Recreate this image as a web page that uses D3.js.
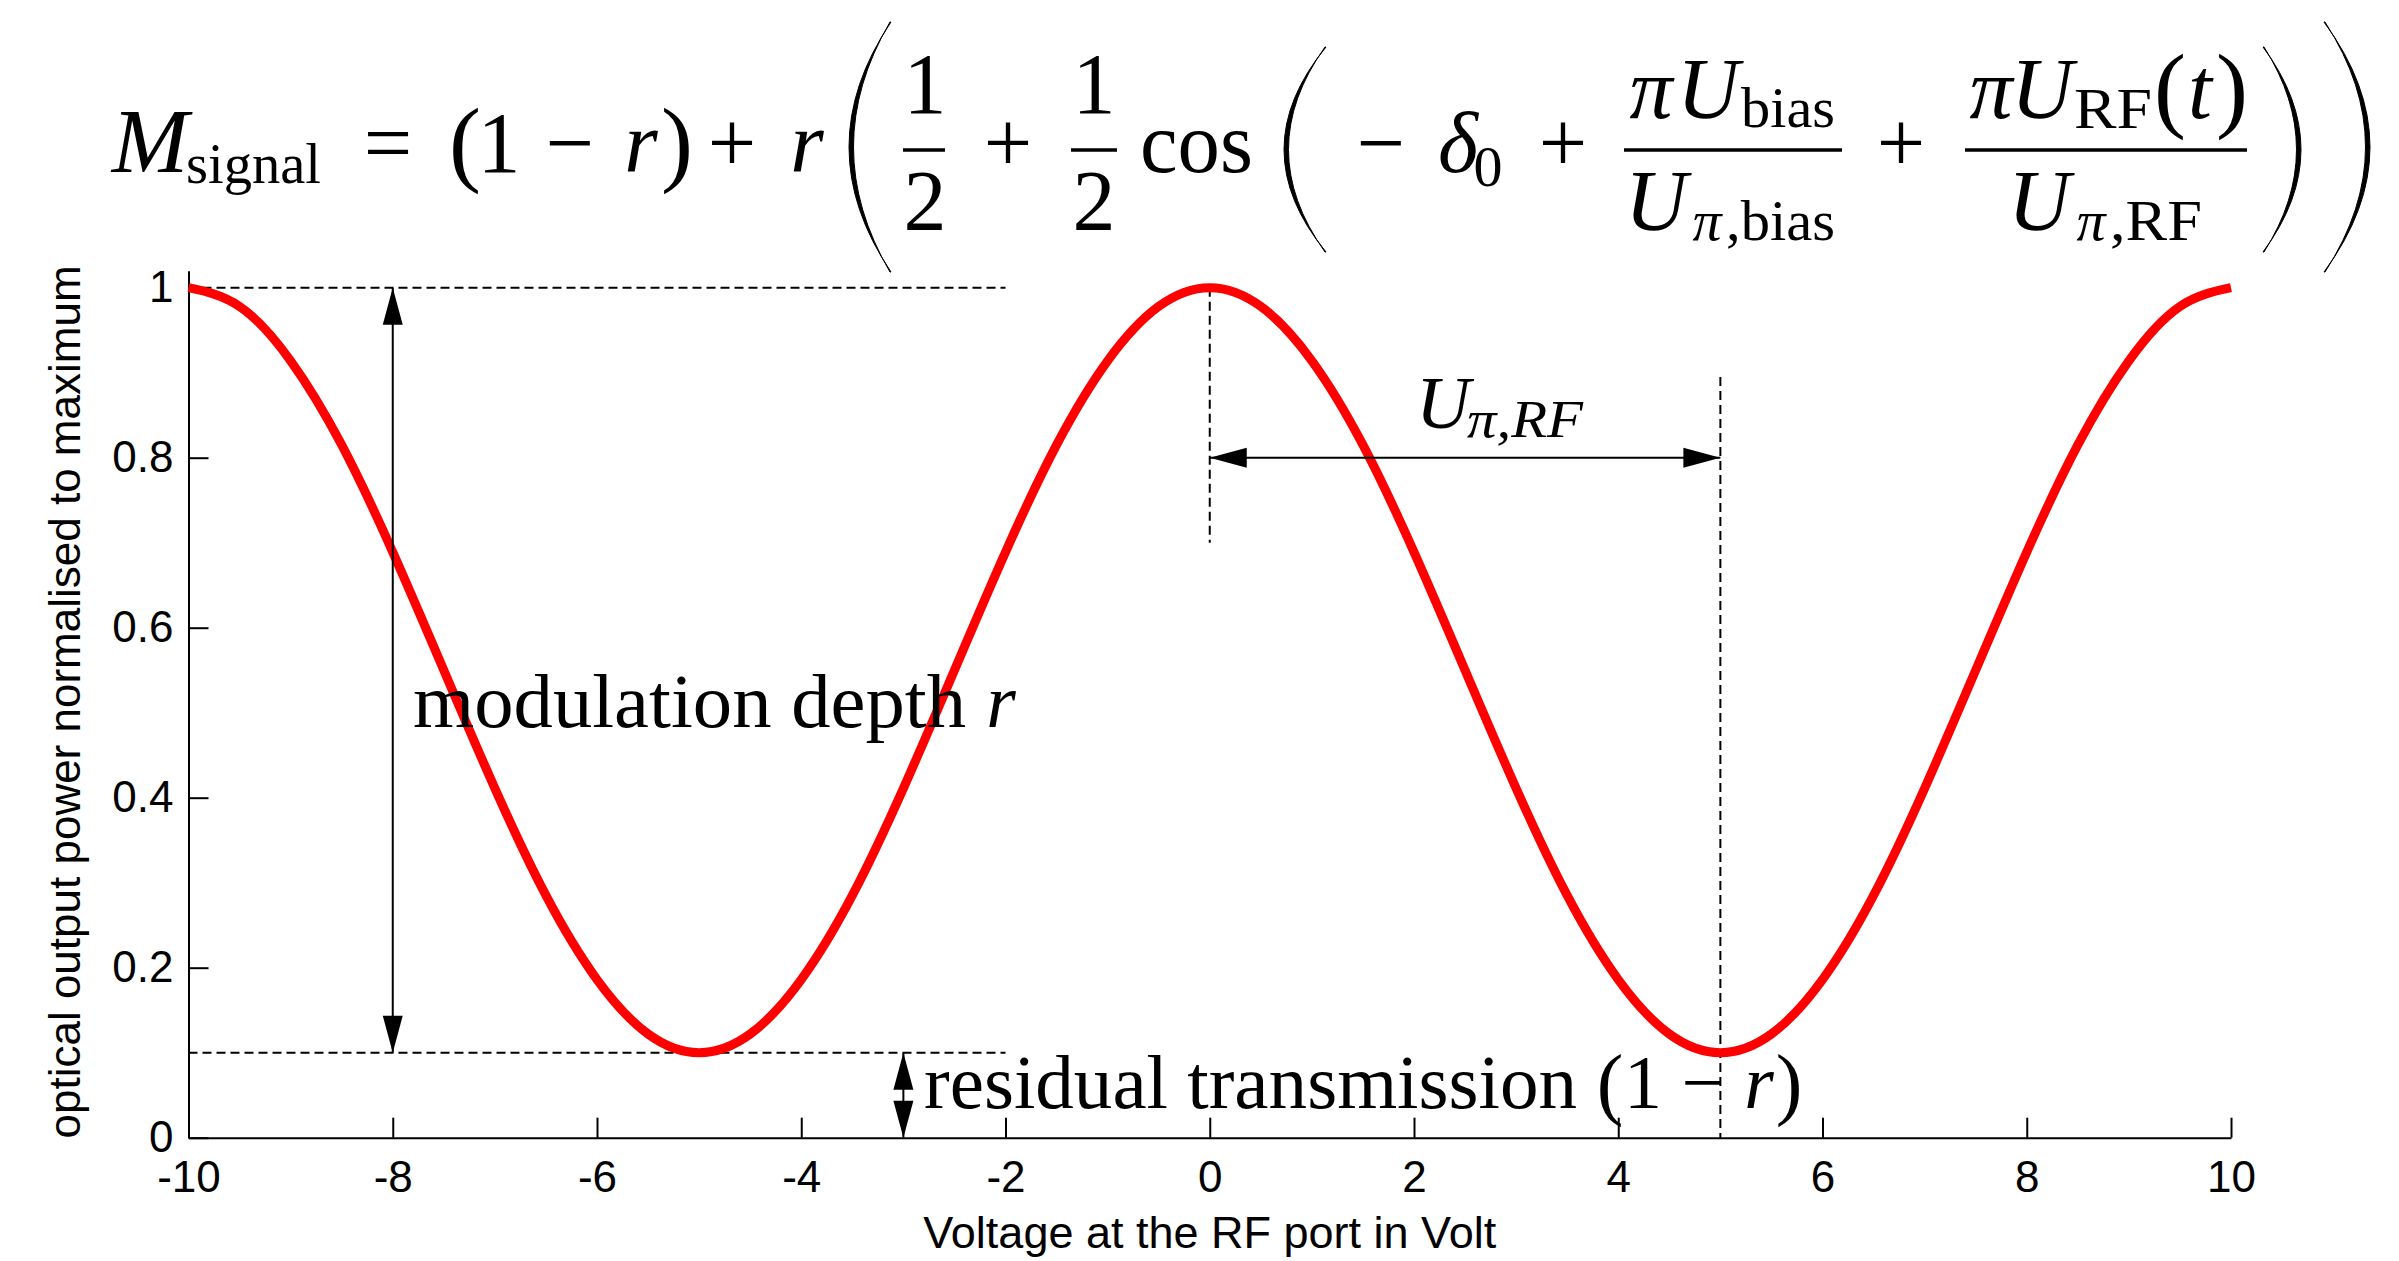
<!DOCTYPE html>
<html>
<head>
<meta charset="utf-8">
<script src="https://cdn.jsdelivr.net/npm/d3@7"></script>
<style>
  body { margin: 0; background: #fff; }
  svg { display: block; background: #fff; }
  .axis path, .axis line { stroke: #000; stroke-width: 2; }
  .axis text { font-family: "Liberation Sans", Arial, sans-serif; font-size: 44px; fill: #000; }
</style>
</head>
<body>
<div id="vis"></div>
<script>
var voltages = [-10, -9.5, -9, -8.5, -8, -7.5, -7, -6.5, -6, -5.5, -5, -4.5, -4, -3.5, -3, -2.5, -2, -1.5, -1, -0.5,
                0, 0.5, 1, 1.5, 2, 2.5, 3, 3.5, 4, 4.5, 5, 5.5, 6, 6.5, 7, 7.5, 8, 8.5, 9, 9.5, 10];
var power = [1.00, 0.978, 0.914, 0.815, 0.689, 0.55, 0.411, 0.285, 0.186, 0.122, 0.10, 0.122, 0.186, 0.285, 0.411, 0.55, 0.689, 0.815, 0.914, 0.978,
             1.00, 0.978, 0.914, 0.815, 0.689, 0.55, 0.411, 0.285, 0.186, 0.122, 0.10, 0.122, 0.186, 0.285, 0.411, 0.55, 0.689, 0.815, 0.914, 0.978, 1.00];

var xTicks = [-10, -8, -6, -4, -2, 0, 2, 4, 6, 8, 10];
var yTicks = [0, 0.2, 0.4, 0.6, 0.8, 1];

// annotation values
var maxLevel = 1;          // top of modulation
var residualLevel = 0.1;   // 1 - r
var guideEnd = -2;         // dashed guides run from -10 to here
var depthArrowX = -8;
var residualArrowX = -3;
var piStart = 0, piEnd = 5, piArrowLevel = 0.8;
var piGuideTop0 = 0.70, piGuideTop5 = 0.895;

var width = 2399, height = 1261;
var plot = { left: 188.5, right: 2231, bottom: 1137.7, unit: 850 };
var yMax = 1.02;

var svg = d3.select('#vis').append('svg')
  .attr('width', width)
  .attr('height', height);

var x = d3.scaleLinear().domain([-10, 10]).range([plot.left, plot.right]);
var y = d3.scaleLinear().domain([0, yMax]).range([plot.bottom, plot.bottom - plot.unit * yMax]);

// axes, ticks pointing inward like matlab
svg.append('g')
  .attr('class', 'axis')
  .attr('transform', 'translate(0,' + plot.bottom + ')')
  .call(d3.axisBottom(x).tickValues(xTicks).tickFormat(function (d) { return String(d); })
    .tickSizeInner(-20).tickSizeOuter(0).tickPadding(23));

svg.append('g')
  .attr('class', 'axis')
  .attr('transform', 'translate(' + plot.left + ',0)')
  .call(d3.axisLeft(y).tickValues(yTicks).tickFormat(function (d) { return String(d); })
    .tickSizeInner(-20).tickSizeOuter(0).tickPadding(15));

svg.append('text')
  .attr('x', (plot.left + plot.right) / 2)
  .attr('y', 1248)
  .attr('text-anchor', 'middle')
  .style('font-family', '"Liberation Sans", Arial, sans-serif')
  .style('font-size', '45px')
  .text('Voltage at the RF port in Volt');

svg.append('text')
  .attr('transform', 'translate(80,702) rotate(-90)')
  .attr('text-anchor', 'middle')
  .style('font-family', '"Liberation Sans", Arial, sans-serif')
  .style('font-size', '44px')
  .text('optical output power normalised to maximum');

// dashed guides
var guides = svg.append('g')
  .style('stroke', '#000')
  .style('stroke-width', 2)
  .style('stroke-dasharray', '9,5')
  .style('fill', 'none');

[maxLevel, residualLevel].forEach(function (lv) {
  guides.append('line')
    .attr('x1', x(-10)).attr('x2', x(guideEnd))
    .attr('y1', y(lv)).attr('y2', y(lv));
});
guides.append('line')
  .attr('x1', x(piStart)).attr('x2', x(piStart))
  .attr('y1', y(maxLevel)).attr('y2', y(piGuideTop0));
guides.append('line')
  .attr('x1', x(piEnd)).attr('x2', x(piEnd))
  .attr('y1', y(piGuideTop5)).attr('y2', y(0));

// the curve
var line = d3.line()
  .x(function (d, i) { return x(voltages[i]); })
  .y(function (d) { return y(d); })
  .curve(d3.curveNatural);

svg.append('path')
  .datum(power)
  .attr('d', line)
  .style('fill', 'none')
  .style('stroke', '#ff0000')
  .style('stroke-width', 9);

// double arrows
var arrows = svg.append('g');

function head(tx, ty, dx, dy) {
  var L = 37, w = 10;
  var bx = tx - dx * L, by = ty - dy * L;
  var pts = [[tx, ty], [bx - dy * w, by + dx * w], [bx + dy * w, by - dx * w]];
  arrows.append('path')
    .attr('d', 'M' + pts.join('L') + 'Z')
    .style('fill', '#000');
}

function doubleArrow(x1, y1, x2, y2) {
  arrows.append('line')
    .attr('x1', x1).attr('y1', y1).attr('x2', x2).attr('y2', y2)
    .style('stroke', '#000').style('stroke-width', 2);
  var len = Math.hypot(x2 - x1, y2 - y1);
  var dx = (x2 - x1) / len, dy = (y2 - y1) / len;
  head(x1, y1, -dx, -dy);
  head(x2, y2, dx, dy);
}

doubleArrow(x(depthArrowX), y(maxLevel), x(depthArrowX), y(residualLevel));
doubleArrow(x(residualArrowX), y(residualLevel), x(residualArrowX), y(0));
doubleArrow(x(piStart), y(piArrowLevel), x(piEnd), y(piArrowLevel));

// serif text helpers (latex look)
var serif = '"Liberation Serif", "Times New Roman", serif';
function txt(str, base, size, italic) {
  return svg.append('text')
    .attr('y', base)
    .style('font-family', serif)
    .style('font-size', size + 'px')
    .style('font-style', italic ? 'italic' : 'normal')
    .text(str);
}
// single glyph centred in its box
function glyph(str, cx, base, size, italic) {
  return txt(str, base, size, italic).attr('x', cx).attr('text-anchor', 'middle');
}
// run of letters stretched to span x0..x1
function run(str, x0, x1, base, size, italic) {
  return txt(str, base, size, italic).attr('x', x0)
    .attr('textLength', x1 - x0).attr('lengthAdjust', 'spacingAndGlyphs');
}

// curved paren drawn as a crescent
function paren(x0, x1, y0, y1, left) {
  var ym = (y0 + y1) / 2, th = 5;
  var p;
  if (left) {
    p = 'M' + x1 + ',' + y0 + 'Q' + (2 * x0 - x1) + ',' + ym + ' ' + x1 + ',' + y1 +
        'L' + (x1 - 1) + ',' + y1 + 'Q' + (2 * (x0 + th) - x1) + ',' + ym + ' ' + (x1 - 1) + ',' + y0 + 'Z';
  } else {
    p = 'M' + x0 + ',' + y0 + 'Q' + (2 * x1 - x0) + ',' + ym + ' ' + x0 + ',' + y1 +
        'L' + (x0 + 1) + ',' + y1 + 'Q' + (2 * (x1 - th) - x0) + ',' + ym + ' ' + (x0 + 1) + ',' + y0 + 'Z';
  }
  svg.append('path').attr('d', p).style('fill', '#000').style('stroke', '#000').style('stroke-width', 1);
}

function bar(x0, x1, yy) {
  svg.append('line')
    .attr('x1', x0).attr('x2', x1).attr('y1', yy).attr('y2', yy)
    .style('stroke', '#000').style('stroke-width', 3.5);
}

// equation on top
var B = 172, S = 86, s = 58, P = 96;
glyph('M', 150, B, 92, true);
run('signal', 186, 321, 183, s, false);
glyph('=', 388, B, S, false);
glyph('(', 465, 174, P, false);
glyph('1', 499, B, S, false);
glyph('\u2212', 570, B, S, false);
glyph('r', 641, B, S, true);
glyph(')', 677, 174, P, false);
glyph('+', 732, B, S, false);
glyph('r', 807, B, S, true);
paren(849, 891, 22, 272, true);
glyph('1', 925, 113, S, false);
bar(903, 945, 150);
glyph('2', 925, 230, S, false);
glyph('+', 1008, B, S, false);
glyph('1', 1094, 113, S, false);
bar(1071, 1117, 150);
glyph('2', 1094, 230, S, false);
run('cos', 1140, 1253, B, S, false);
paren(1284, 1326, 47, 252, true);
glyph('\u2212', 1381, B, S, false);
glyph('\u03b4', 1458, B, S, true);
glyph('0', 1488, 186, s, false);
glyph('+', 1563, B, S, false);
glyph('\u03c0', 1651, 118, S, true);
glyph('U', 1708, 118, S, true);
run('bias', 1741, 1835, 127, s, false);
bar(1624, 1842, 150);
glyph('U', 1656, 230, S, true);
glyph('\u03c0', 1707, 240, s, true);
run(',bias', 1726, 1835, 240, s, false);
glyph('+', 1901, B, S, false);
glyph('\u03c0', 1991, 118, S, true);
glyph('U', 2042, 118, S, true);
run('RF', 2074, 2152, 128, s, false);
glyph('(', 2170, 120, P, false);
glyph('t', 2200, 118, S, true);
glyph(')', 2232, 120, P, false);
bar(1965, 2247, 150);
glyph('U', 2039, 230, S, true);
glyph('\u03c0', 2091, 240, s, true);
run(',RF', 2110, 2202, 240, s, false);
paren(2263, 2301, 47, 252, false);
paren(2324, 2370, 22, 272, false);

// labels inside the plot
run('modulation depth', 413, 966, 727, 76, false);
glyph('r', 1001, 727, 76, true);

run('residual transmission', 924, 1577, 1108, 76, false);
glyph('(', 1610, 1110, 80, false);
glyph('1', 1643, 1108, 76, false);
glyph('\u2212', 1703, 1108, 76, false);
glyph('r', 1759, 1108, 76, true);
glyph(')', 1789, 1110, 80, false);

glyph('U', 1443, 428, 75, true);
run('\u03c0,RF', 1467, 1583, 437, 52, true);
</script>
</body>
</html>
